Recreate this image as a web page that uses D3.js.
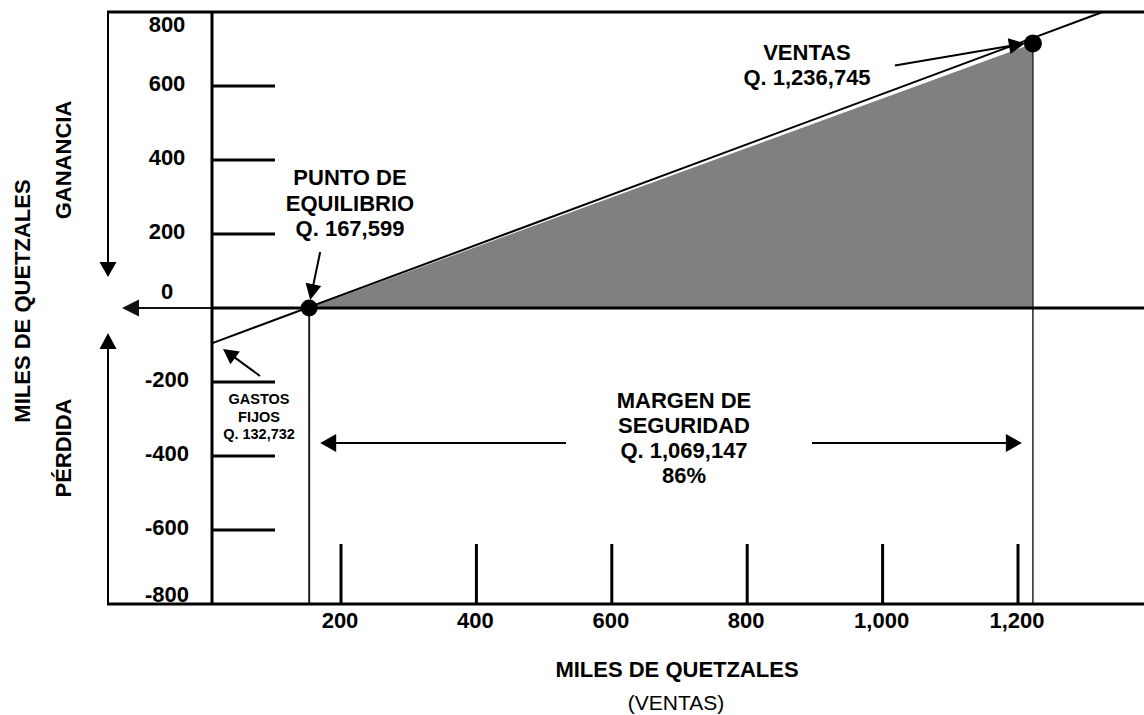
<!DOCTYPE html>
<html><head><meta charset="utf-8">
<script src="https://cdn.jsdelivr.net/npm/d3@7"></script>
<style>
body{margin:0;background:#fff}
text{font-family:"Liberation Sans",Arial,Helvetica,sans-serif;fill:#000}
</style>
</head><body>
<svg id="chart" width="1144" height="715"></svg>
<script>
// ---- data (miles de quetzales) ----
const xTickValues = [200, 400, 600, 800, 1000, 1200];
const xTickLabels = ["200", "400", "600", "800", "1,000", "1,200"];
const yTickValues = [600, 400, 200, -200, -400, -600];
const yLabelValues = [800, 600, 400, 200, 0, -200, -400, -600, -800];
const yLabelTexts = ["800", "600", "400", "200", "0", "-200", "-400", "-600", "-800"];
const salesLineX = [10, 1325];
const salesLineY = [-95, 800];
const breakEven = {x: 153, y: 0};
const salesPoint = {x: 1222, y: 715};
const breakEvenText = ["PUNTO DE", "EQUILIBRIO", "Q. 167,599"];
const salesText = ["VENTAS", "Q. 1,236,745"];
const fixedText = ["GASTOS", "FIJOS", "Q. 132,732"];
const marginText = ["MARGEN DE", "SEGURIDAD", "Q. 1,069,147", "86%"];

// ---- layout ----
const outerLeft = 108, axisLeft = 212, rightEdge = 1144;
const x = d3.scaleLinear().domain([0, 1200]).range([205.6, 1018]);
const y = d3.scaleLinear().domain([-800, 800]).range([604, 12]);
const yTop = y(800), yBottom = y(-800), yZero = y(0);

const svg = d3.select("#chart");
const g = svg.append("g");

function arrow(x1, y1, x2, y2, opt = {}) {
  const w = opt.w || 2, head = opt.head || 15, half = opt.half || 7, color = opt.color || "#000";
  const a = Math.atan2(y2 - y1, x2 - x1);
  const bx = x2 - head * Math.cos(a), by = y2 - head * Math.sin(a);
  g.append("line").attr("x1", x1).attr("y1", y1).attr("x2", bx + Math.cos(a) * 2).attr("y2", by + Math.sin(a) * 2)
    .attr("stroke", color).attr("stroke-width", w);
  const px = Math.sin(a) * half, py = -Math.cos(a) * half;
  g.append("polygon").attr("points", [[x2, y2], [bx + px, by + py], [bx - px, by - py]].map(p => p.join(",")).join(" "))
    .attr("fill", color);
}

// shaded profit triangle
g.append("polygon")
  .attr("points", [[x(breakEven.x), y(breakEven.y)], [x(salesPoint.x), y(salesPoint.y)], [x(salesPoint.x), y(0)]]
    .map(p => p.join(",")).join(" "))
  .attr("fill", "#808080");

// drop lines
g.append("line").attr("x1", x(breakEven.x)).attr("x2", x(breakEven.x)).attr("y1", y(breakEven.y)).attr("y2", yBottom)
  .attr("stroke", "#222").attr("stroke-width", 2);
g.append("line").attr("x1", x(salesPoint.x)).attr("x2", x(salesPoint.x)).attr("y1", y(salesPoint.y)).attr("y2", yBottom)
  .attr("stroke", "#333").attr("stroke-width", 1.6);

// zero line (thin arrow to the left, thick axis to the right)
arrow(238, yZero, 122, yZero, {w: 2, head: 17, half: 8.5, color: "#111"});
g.append("line").attr("x1", axisLeft).attr("x2", rightEdge).attr("y1", yZero).attr("y2", yZero)
  .attr("stroke", "#000").attr("stroke-width", 3);

// sales (revenue) line
g.append("line")
  .attr("x1", x(salesLineX[0])).attr("y1", y(salesLineY[0]))
  .attr("x2", x(salesLineX[1])).attr("y2", y(salesLineY[1]))
  .attr("stroke", "#000").attr("stroke-width", 2);

// frame
g.append("line").attr("x1", outerLeft - 1).attr("x2", rightEdge).attr("y1", yTop).attr("y2", yTop).attr("stroke", "#000").attr("stroke-width", 3);
g.append("line").attr("x1", outerLeft - 1).attr("x2", rightEdge).attr("y1", yBottom).attr("y2", yBottom).attr("stroke", "#000").attr("stroke-width", 3);
g.append("line").attr("x1", axisLeft).attr("x2", axisLeft).attr("y1", yTop).attr("y2", yBottom).attr("stroke", "#000").attr("stroke-width", 3);

// left arrows Ganancia / Pérdida
arrow(outerLeft, yTop - 1, outerLeft, 277, {w: 2, head: 15, half: 8.5});
arrow(outerLeft, yBottom + 1, outerLeft, 333, {w: 2, head: 16, half: 8.5});

// y ticks
g.selectAll(".yt").data(yTickValues).join("line")
  .attr("x1", axisLeft).attr("x2", axisLeft + 63).attr("y1", d => y(d)).attr("y2", d => y(d))
  .attr("stroke", "#000").attr("stroke-width", 3);
g.selectAll(".yl").data(yLabelValues).join("text")
  .attr("x", 167)
  .attr("y", d => d === 800 ? y(d) + 20 : d === 0 ? y(d) - 9 : d === -800 ? y(d) - 2 : y(d) + 5)
  .attr("text-anchor", "middle").attr("font-size", 22).attr("font-weight", "bold")
  .text((d, i) => yLabelTexts[i]);

// x ticks
g.selectAll(".xt").data(xTickValues).join("line")
  .attr("x1", d => x(d)).attr("x2", d => x(d)).attr("y1", yBottom - 60).attr("y2", yBottom)
  .attr("stroke", "#000").attr("stroke-width", 3);
g.selectAll(".xl").data(xTickValues).join("text")
  .attr("x", d => x(d) - 1).attr("y", 628)
  .attr("text-anchor", "middle").attr("font-size", 22).attr("font-weight", "bold")
  .text((d, i) => xTickLabels[i]);

// points
g.append("circle").attr("cx", x(breakEven.x)).attr("cy", y(breakEven.y)).attr("r", 8.5).attr("fill", "#000");
g.append("circle").attr("cx", x(salesPoint.x)).attr("cy", y(salesPoint.y)).attr("r", 9).attr("fill", "#000");

// annotation arrows
arrow(x(salesPoint.x) - 138, y(salesPoint.y) + 22, x(salesPoint.x) - 8, y(salesPoint.y), {w: 2, head: 16, half: 8});
arrow(x(breakEven.x) + 11, 252, x(breakEven.x) + 1, y(breakEven.y) - 8, {w: 2, head: 16, half: 8});
arrow(260, 376, 223, 349, {w: 2, head: 15, half: 8});
arrow(566, y(-365), x(breakEven.x) + 11, y(-365), {w: 2, head: 16, half: 9});
arrow(812, y(-365), x(salesPoint.x) - 11, y(-365), {w: 2, head: 16, half: 9});

// text blocks
function block(lines, cx, y0, dy, size, weight) {
  g.selectAll(null).data(lines).join("text")
    .attr("x", cx).attr("y", (d, i) => y0 + i * dy)
    .attr("text-anchor", "middle").attr("font-size", size).attr("font-weight", weight)
    .text(d => d);
}
block(breakEvenText, 350, 185, 25.5, 22, "bold");
block(salesText, 807, 60, 25, 22, "bold");
block(fixedText, 259, 404, 17.5, 14.5, "bold");
block(marginText, 684, 408, 25, 22, "bold");

// axis titles
g.append("text").attr("x", 677).attr("y", 677).attr("text-anchor", "middle")
  .attr("font-size", 22).attr("font-weight", "bold").text("MILES DE QUETZALES");
g.append("text").attr("x", 676).attr("y", 710).attr("text-anchor", "middle")
  .attr("font-size", 21).text("(VENTAS)");
g.append("text").attr("transform", "translate(30,301) rotate(-90)").attr("text-anchor", "middle")
  .attr("font-size", 22).attr("font-weight", "bold").text("MILES DE QUETZALES");
g.append("text").attr("transform", "translate(71,160) rotate(-90)").attr("text-anchor", "middle")
  .attr("font-size", 22).attr("font-weight", "bold").text("GANANCIA");
g.append("text").attr("transform", "translate(71,448) rotate(-90)").attr("text-anchor", "middle")
  .attr("font-size", 22).attr("font-weight", "bold").text("PÉRDIDA");
</script>
</body></html>
